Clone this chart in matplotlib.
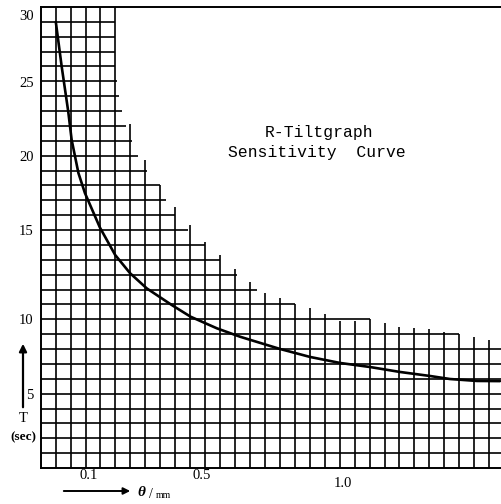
import numpy as np
import matplotlib
matplotlib.use("Agg")
import matplotlib.pyplot as plt
from matplotlib.transforms import ScaledTranslation

# ---- data ----
theta = [-0.015, 0.006, 0.029, 0.041, 0.065, 0.088, 0.141, 0.195, 0.248,
         0.307, 0.395, 0.462, 0.555, 0.637, 0.732, 0.779, 0.885, 0.991,
         1.097, 1.203, 1.310, 1.380, 1.476, 1.557]
period = [29.0, 26.0, 23.0, 21.1, 18.85, 17.5, 15.17, 13.6, 12.57,
          11.72, 10.79, 10.13, 9.38, 8.82, 8.27, 8.0, 7.47, 7.07,
          6.8, 6.47, 6.2, 6.0, 5.87, 5.86]

y_ticks = [30, 25, 20, 15, 10, 5]
y_labels = ["30", "25", "20", "15", "10", "5"]
x_ticks = [0.1, 0.5, 1.0]
x_labels = ["0.1", "0.5", "1.0"]

# printed (uneven) T scale of the original graph paper
scale_T = [0, 5, 10, 15, 20, 25, 30]
scale_h = [0, 75, 150, 239, 313, 387, 462]

# staircase extent of the printed grid (grid cell units)
row_ends = [5, 5, 5, 5, 5.1, 5.24, 5.42, 5.7, 6.1, 6.49, 7.09, 8.0, 8.38, 8.98,
            9.85, 11.0, 12.0, 13.1, 14.45, 17.0, 22.0, 28.0,
            31, 31, 31, 31, 31, 31, 31, 31]            # rows 1..30
col_tops = [0, 0, 0, 0, 0, 7.87, 10.3, 12.0, 13.45, 14.66, 15.8, 16.7, 17.64,
            18.47, 19.2, 19.6, 20.0, 20.24, 20.65, 21.1, 21.1, 21.0, 21.25,
            21.55, 21.6, 21.66, 21.86, 22.0, 22.2, 22.4]  # cols 1..30

W, H = 502, 504
fig = plt.figure(figsize=(W / 100, H / 100), dpi=100)
fig.patch.set_facecolor("white")

left, right, top, bottom = 40.7, 502, 7, 468
pos = [left / W, 1 - bottom / H, (right - left) / W, (bottom - top) / H]

# grid layer
gx = fig.add_axes(pos, zorder=0)
gx.set_xlim(0, (right - left) / 14.95)
gx.set_ylim(31, 0)
gx.axis("off")
rows = np.arange(1, 31)
cols = np.arange(1, 31)
gx.hlines(rows, 0, row_ends, color="black", lw=1.2)
gx.vlines(cols, col_tops, 31, color="black", lw=1.2)

# data layer
ax = fig.add_axes(pos, zorder=1)
ax.patch.set_alpha(0)


def fwd(t):
    return np.interp(t, scale_T, scale_h)


def inv(h):
    return np.interp(h, scale_h, scale_T)


ax.set_yscale("function", functions=(fwd, inv))
ax.set_xlim(-0.0685, 1.5644)
ax.set_ylim(0.067, 30)

ax.plot(theta, period, color="black", lw=1.9, solid_capstyle="round",
        solid_joinstyle="round")

ax.spines["right"].set_visible(False)
for s in ("left", "top", "bottom"):
    ax.spines[s].set_linewidth(1.4)
    ax.spines[s].set_color("black")

serif = "Liberation Serif"
ax.set_yticks(y_ticks)
ax.set_yticklabels(y_labels, fontfamily=serif, fontsize=10.5)
ax.set_xticks(x_ticks)
ax.set_xticklabels(x_labels, fontfamily=serif, fontsize=10.5)
ax.minorticks_off()
ax.tick_params(axis="y", length=0, pad=5)
ax.tick_params(axis="x", length=0, pad=1)

# small offsets present in the original print
lab30 = ax.get_yticklabels()[0]
lab30.set_transform(lab30.get_transform() + ScaledTranslation(0, -8 / 100, fig.dpi_scale_trans))
lab10x = ax.get_xticklabels()[2]
lab10x.set_transform(lab10x.get_transform() + ScaledTranslation(0, -8 / 100, fig.dpi_scale_trans))

# axis captions
fig.text(23 / W, 1 - 418 / H, "T", fontfamily=serif, fontsize=10.5, ha="center", va="center")
fig.text(23 / W, 1 - 437 / H, "(sec)", fontfamily=serif, fontsize=9.5, fontweight="bold",
         ha="center", va="center")
fig.add_artist(matplotlib.patches.FancyArrowPatch(
    (23 / W, 1 - 410 / H), (23 / W, 1 - 341 / H), transform=fig.transFigure,
    arrowstyle="-|>", mutation_scale=11, lw=1.6, color="black"))

fig.add_artist(matplotlib.patches.FancyArrowPatch(
    (61 / W, 1 - 491 / H), (133 / W, 1 - 491 / H), transform=fig.transFigure,
    arrowstyle="-|>", mutation_scale=10, lw=1.4, color="black"))
fig.text(141 / W, 1 - 493 / H, "θ", fontfamily=serif, fontsize=11, fontstyle="italic",
         fontweight="bold", ha="center", va="center")
fig.text(151 / W, 1 - 494 / H, "/", fontfamily=serif, fontsize=10, ha="center", va="center")
fig.text(163 / W, 1 - 496 / H, "mm", fontfamily=serif, fontsize=7, ha="center", va="center")

# title
mono = "Liberation Mono"
fig.text(319 / W, 1 - 133 / H, "R-Tiltgraph", fontfamily=mono, fontsize=11.8,
         ha="center", va="center")
fig.text(317 / W, 1 - 153 / H, "Sensitivity  Curve", fontfamily=mono, fontsize=11.8,
         ha="center", va="center")

fig.savefig("out.png", dpi=100, facecolor="white")
